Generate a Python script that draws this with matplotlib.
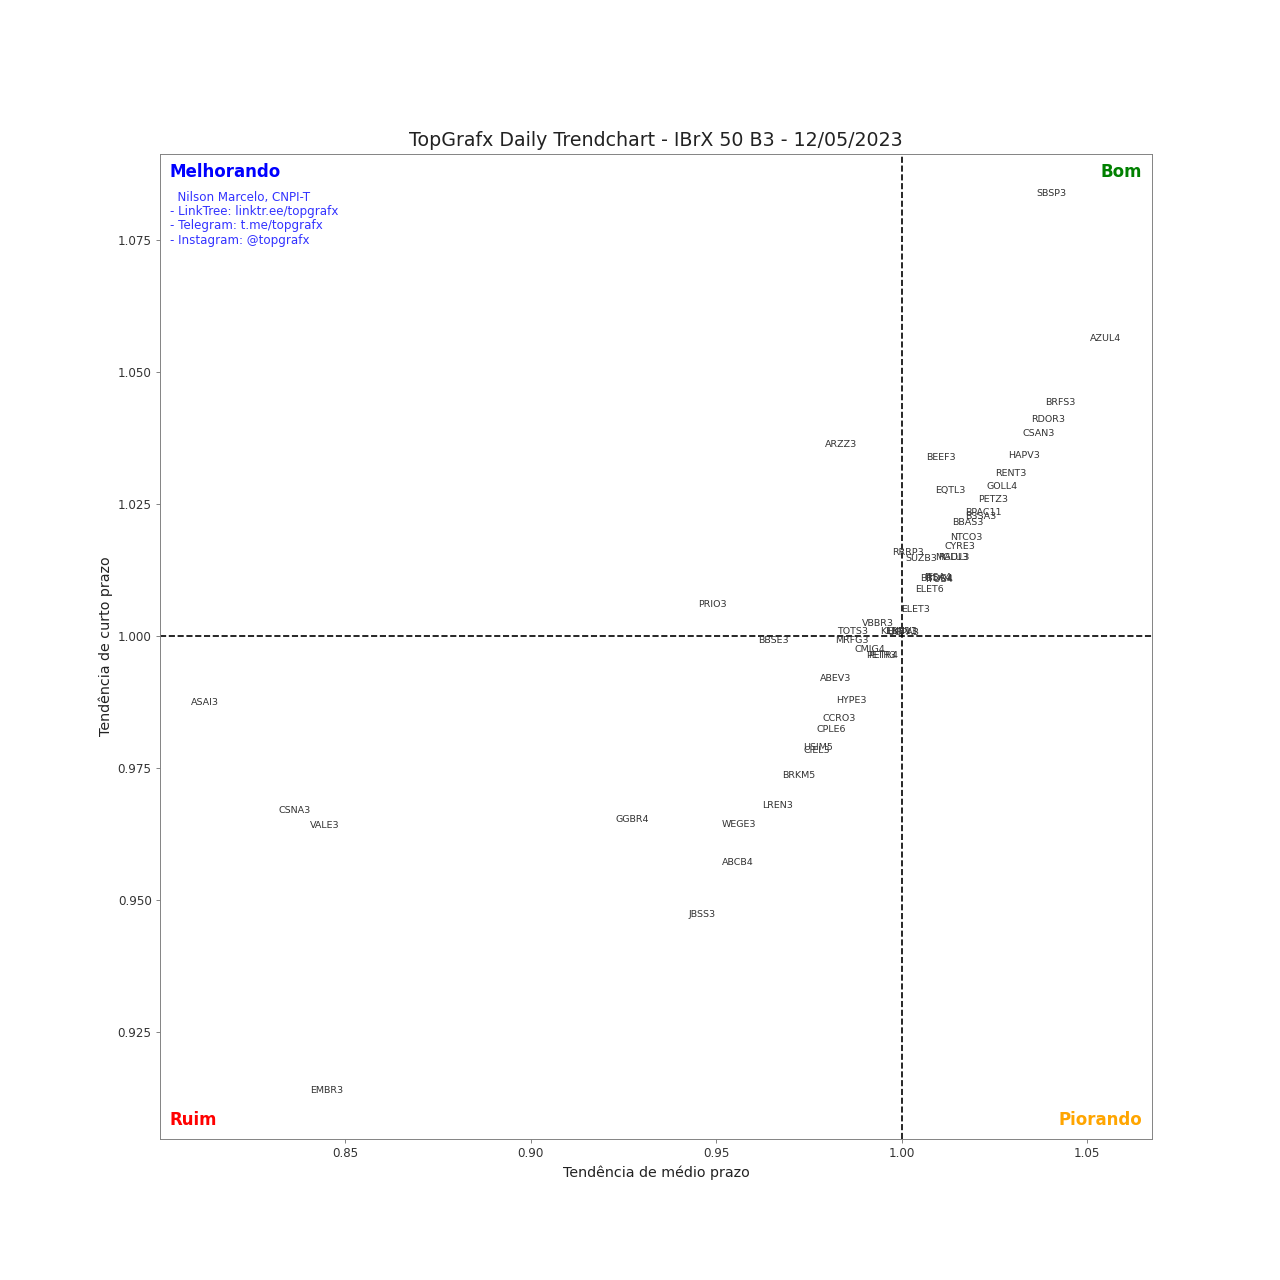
import matplotlib
matplotlib.use('Agg')
import matplotlib.pyplot as plt

# tickers and their trend ratios (medium term on x, short term on y)
tickers = ['SBSP3', 'AZUL4', 'BRFS3', 'RDOR3', 'CSAN3', 'ARZZ3', 'BEEF3', 'HAPV3',
           'RENT3', 'GOLL4', 'EQTL3', 'PETZ3', 'BPAC11', 'B3SA3', 'BBAS3', 'NTCO3',
           'CYRE3', 'RRRP3', 'SUZB3', 'MGLU3', 'RADL3', 'BBDC4', 'ITUB4', 'ITSA4',
           'ELET6', 'ELET3', 'PRIO3', 'VBBR3', 'TOTS3', 'KLBN11', 'ENEV3', 'UGPA3',
           'MRFG3', 'BBSE3', 'CMIG4', 'PETR3', 'PETR4', 'ABEV3', 'HYPE3', 'CCRO3',
           'CPLE6', 'USIM5', 'CIEL3', 'BRKM5', 'LREN3', 'CSNA3', 'VALE3', 'GGBR4',
           'WEGE3', 'ABCB4', 'JBSS3', 'ASAI3', 'EMBR3']

medio = [1.0404, 1.0550, 1.0429, 1.0396, 1.0369, 0.9836, 1.0105, 1.0329,
         1.0294, 1.0272, 1.0132, 1.0248, 1.0221, 1.0213, 1.0178, 1.0175,
         1.0156, 1.0016, 1.0054, 1.0135, 1.0142, 1.0094, 1.0100, 1.0098,
         1.0075, 1.0038, 0.9491, 0.9935, 0.9868, 0.9992, 1.0000, 1.0004,
         0.9865, 0.9655, 0.9914, 0.9945, 0.9951, 0.9822, 0.9865, 0.9833,
         0.9811, 0.9774, 0.9771, 0.9722, 0.9666, 0.8364, 0.8445, 0.9275,
         0.9561, 0.9558, 0.9461, 0.8121, 0.8450]

curto = [1.0837, 1.0563, 1.0441, 1.0409, 1.0383, 1.0362, 1.0337, 1.0341,
         1.0307, 1.0282, 1.0275, 1.0259, 1.0233, 1.0225, 1.0214, 1.0186,
         1.0169, 1.0157, 1.0146, 1.0148, 1.0149, 1.0108, 1.0106, 1.0110,
         1.0087, 1.0049, 1.0059, 1.0023, 1.0008, 1.0008, 1.0008, 1.0007,
         0.9992, 0.9992, 0.9975, 0.9962, 0.9962, 0.9919, 0.9877, 0.9843,
         0.9822, 0.9788, 0.9782, 0.9735, 0.9678, 0.9669, 0.9640, 0.9652,
         0.9642, 0.9570, 0.9473, 0.9873, 0.9140]

# gray frame and dark gray text like the original
plt.rcParams['axes.edgecolor'] = '#808080'
plt.rcParams['xtick.color'] = '#808080'
plt.rcParams['ytick.color'] = '#808080'
plt.rcParams['xtick.labelcolor'] = '#333333'
plt.rcParams['ytick.labelcolor'] = '#333333'
plt.rcParams['text.color'] = '#222222'
plt.rcParams['axes.labelcolor'] = '#222222'

fig, ax = plt.subplots(figsize=(15, 15), dpi=1280 / 15)

for t, x, y in zip(tickers, medio, curto):
    ax.text(x, y, t, fontsize=8, color='#333333', ha='center', va='center')

ax.axvline(1.0, color='black', linestyle='--', linewidth=1.4)
ax.axhline(1.0, color='black', linestyle='--', linewidth=1.4)

ax.set_xlim(0.8001, 1.0675)
ax.set_ylim(0.9047, 1.0913)
ax.set_xticks([0.85, 0.90, 0.95, 1.00, 1.05])
ax.set_yticks([0.925, 0.950, 0.975, 1.000, 1.025, 1.050, 1.075])

ax.set_title('TopGrafx Daily Trendchart - IBrX 50 B3 - 12/05/2023', fontsize=16)
ax.set_xlabel('Tendência de médio prazo', fontsize=12)
ax.set_ylabel('Tendência de curto prazo', fontsize=12)

# quadrant names
ax.text(0.01, 0.99, 'Melhorando', transform=ax.transAxes, color='blue',
        fontsize=14, fontweight='bold', ha='left', va='top')
ax.text(0.99, 0.99, 'Bom', transform=ax.transAxes, color='green',
        fontsize=14, fontweight='bold', ha='right', va='top')
ax.text(0.01, 0.01, 'Ruim', transform=ax.transAxes, color='red',
        fontsize=14, fontweight='bold', ha='left', va='bottom')
ax.text(0.99, 0.01, 'Piorando', transform=ax.transAxes, color='orange',
        fontsize=14, fontweight='bold', ha='right', va='bottom')

ax.text(0.01, 0.962, '  Nilson Marcelo, CNPI-T\n- LinkTree: linktr.ee/topgrafx\n'
        '- Telegram: t.me/topgrafx\n- Instagram: @topgrafx',
        transform=ax.transAxes, color='blue', alpha=0.8, fontsize=10,
        ha='left', va='top', linespacing=1.12)

plt.savefig('out.png')
